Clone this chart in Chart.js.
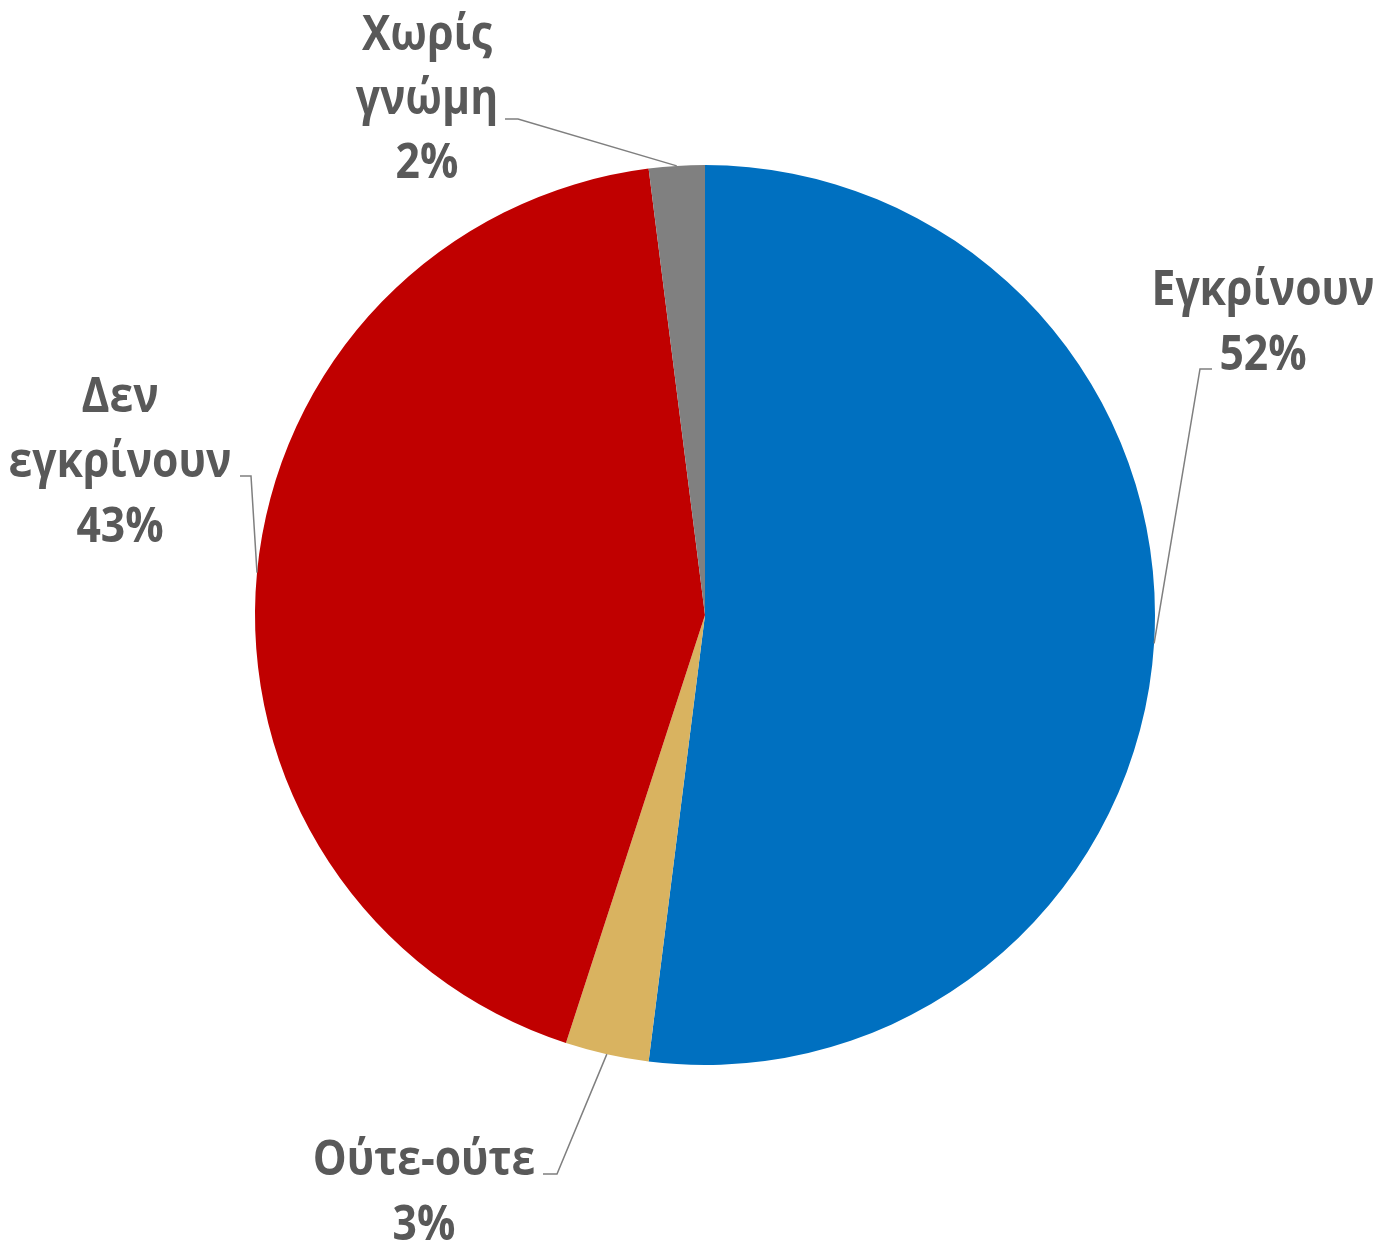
<!DOCTYPE html>
<html>
<head>
<meta charset="utf-8">
<script src="https://cdn.jsdelivr.net/npm/chart.js@4/dist/chart.umd.min.js"></script>
<style>
html,body{margin:0;padding:0;background:#fff;}
#wrap{width:1393px;height:1241px;position:relative;}
</style>
</head>
<body>
<div id="wrap"><canvas id="c"></canvas></div>
<script>
const categories = ['Εγκρίνουν', 'Ούτε-ούτε', 'Δεν εγκρίνουν', 'Χωρίς γνώμη'];
const values = [52, 3, 43, 2];
const labelLines = [['Εγκρίνουν', '52%'], ['Ούτε-ούτε', '3%'], ['Δεν', 'εγκρίνουν', '43%'], ['Χωρίς', 'γνώμη', '2%']];
const colors = ['#0070C0', '#D9B360', '#C00000', '#808080'];

// label layout (positions, not data)
const labelLayout = [
  {x: 1263, baselines: [305, 370], elbow: [[1212, 369], [1200, 369]]},
  {x: 424, baselines: [1175, 1240], elbow: [[543, 1174], [557, 1174]]},
  {x: 120, baselines: [412, 477, 542], elbow: [[240, 476], [251, 476]]},
  {x: 427, baselines: [50, 114, 178], elbow: [[505, 119], [518, 119]]}
];

const labelPlugin = {
  id: 'pieLabels',
  afterDatasetsDraw(chart) {
    const ctx = chart.ctx;
    const meta = chart.getDatasetMeta(0);
    ctx.save();
    ctx.font = 'bold 48px "Open Sans"';
    const sx = 223 / ctx.measureText('Εγκρίνουν').width;
    meta.data.forEach((arc, i) => {
      const L = labelLayout[i];
      const mid = (arc.startAngle + arc.endAngle) / 2;
      const ax = arc.x + Math.cos(mid) * arc.outerRadius;
      const ay = arc.y + Math.sin(mid) * arc.outerRadius;
      ctx.beginPath();
      ctx.strokeStyle = '#7F7F7F';
      ctx.lineWidth = 1.5;
      ctx.moveTo(L.elbow[0][0], L.elbow[0][1]);
      ctx.lineTo(L.elbow[1][0], L.elbow[1][1]);
      ctx.lineTo(ax, ay);
      ctx.stroke();
      ctx.fillStyle = '#595959';
      ctx.textAlign = 'center';
      ctx.textBaseline = 'alphabetic';
      labelLines[i].forEach((t, k) => {
        ctx.save();
        ctx.translate(L.x, L.baselines[k]);
        ctx.scale(sx, 1);
        ctx.fillText(t, 0, 0);
        ctx.restore();
      });
    });
    ctx.restore();
  }
};

new Chart(document.getElementById('c'), {
  type: 'pie',
  data: {
    labels: categories,
    datasets: [{
      data: values,
      backgroundColor: colors,
      borderWidth: 0,
      hoverOffset: 0
    }]
  },
  options: {
    responsive: true,
    maintainAspectRatio: false,
    animation: false,
    layout: {padding: {left: 255, right: 238, top: 165, bottom: 176}},
    plugins: {legend: {display: false}, tooltip: {enabled: false}}
  },
  plugins: [labelPlugin]
});
</script>
</body>
</html>
